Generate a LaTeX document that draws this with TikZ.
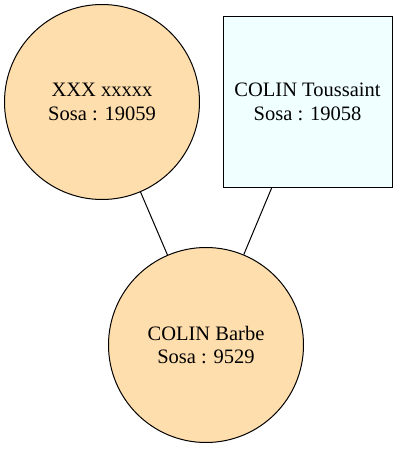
\documentclass[tikz,border=0pt]{standalone}
\usepackage{fontspec}
\setmainfont{Liberation Serif}
\usepackage{xcolor}
\usetikzlibrary{positioning}
\definecolor{personfill}{HTML}{FFDEAD}
\definecolor{fatherfill}{HTML}{F0FFFF}

\begin{document}
\begin{tikzpicture}[
  x=1pt, y=-1pt,
  every node/.style={font=\fontsize{20.5pt}{23.5pt}\selectfont},
  personcircle/.style={
    circle, draw=black, line width=1pt,
    fill=personfill,
    minimum size=195pt, inner sep=0pt,
    align=center
  },
  personbox/.style={
    rectangle, draw=black, line width=1pt,
    fill=fatherfill,
    minimum width=169pt, minimum height=170pt,
    align=center
  },
  linkline/.style={draw=black, line width=1pt}
]
\useasboundingbox (0,0) rectangle (400,449);

% Parents
\node[personcircle] (mother) at (102,102) {XXX xxxxx\\Sosa : 19059};
\node[personbox] (father) at (307.5,102) {COLIN Toussaint\\Sosa : 19058};

% Child
\node[personcircle] (child) at (206,345) {COLIN Barbe\\Sosa : 9529};

% Parent links
\draw[linkline] (mother) -- (child);
\draw[linkline] (father) -- (child);

\end{tikzpicture}
\end{document}
